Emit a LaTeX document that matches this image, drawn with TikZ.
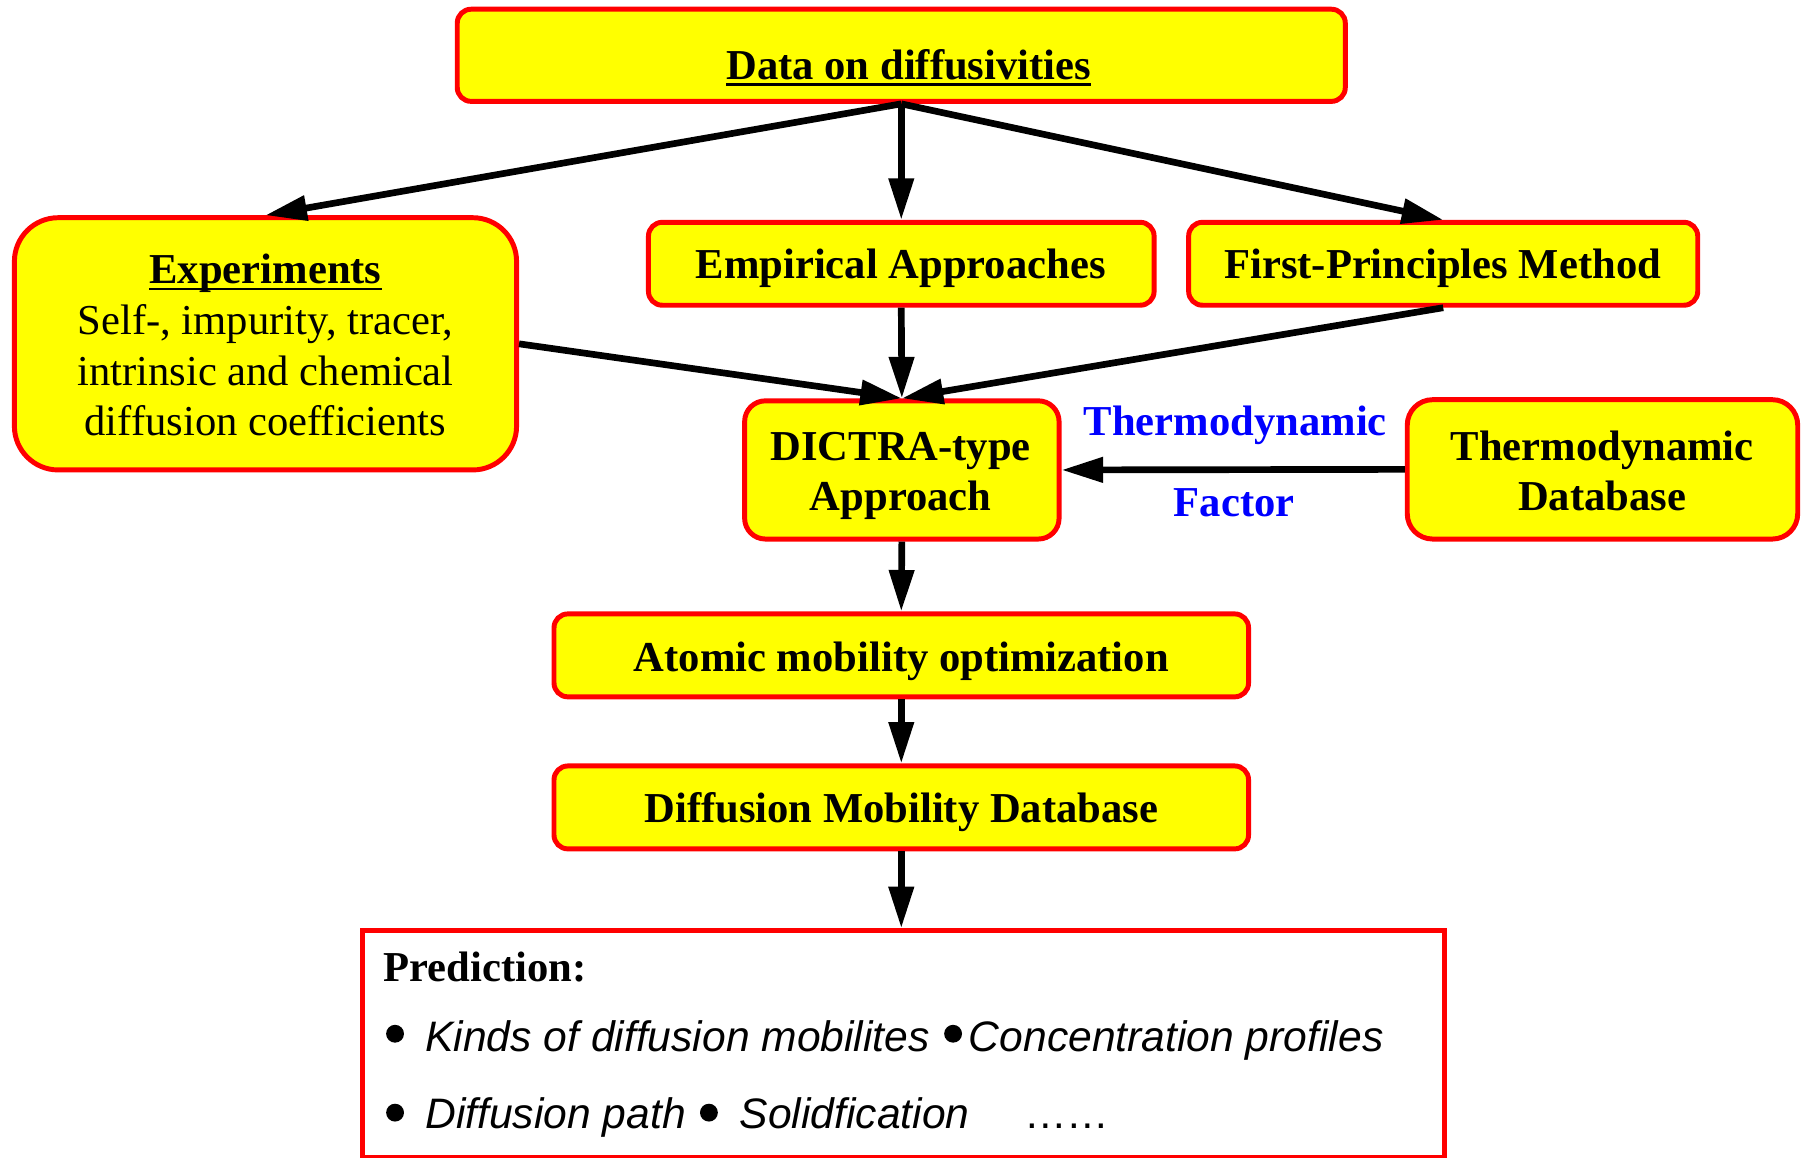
\documentclass[tikz,border=0pt]{standalone}
\usepackage{fontspec}
\setmainfont{Liberation Serif}
\newfontfamily\helv{Liberation Sans}
\usetikzlibrary{arrows.meta}
\definecolor{boxyellow}{RGB}{255,255,0}
\definecolor{boxred}{RGB}{255,0,0}
\definecolor{labblue}{RGB}{0,0,255}
\begin{document}
\begin{tikzpicture}[x=1pt,y=-1pt,
  box/.style={draw=boxred, fill=boxyellow, line width=4.3pt, rounded corners=12pt, inner sep=0pt},
  arr/.style={line width=5.8pt, -{Triangle[length=36pt,width=21pt]}},
  uline/.style={line width=2.4pt},
  txt/.style={inner sep=0pt, anchor=base, font=\fontsize{37}{44}\selectfont\bfseries},
  rtxt/.style={inner sep=0pt, anchor=base, font=\fontsize{37}{44}\selectfont},
  bluelab/.style={txt, text=labblue},
  predtxt/.style={inner sep=0pt, anchor=base west, font=\fontsize{37}{44}\selectfont\helv\itshape},
  bul/.style={circle, fill=black, inner sep=0pt, minimum size=15.5pt}]
\useasboundingbox (0,0) rectangle (1568,1005);

% boxes
\node[box, minimum width=771pt, minimum height=80pt] (data) at (782.5,48) {};
\node[box, minimum width=436pt, minimum height=219pt, rounded corners=38pt] (exp) at (230.5,298.5) {};
\node[box, minimum width=439pt, minimum height=72pt] (emp) at (782.5,229) {};
\node[box, minimum width=442pt, minimum height=72pt] (fp) at (1253,229) {};
\node[box, minimum width=273pt, minimum height=120pt, rounded corners=18pt] (dictra) at (783,408) {};
\node[box, minimum width=339pt, minimum height=121pt, rounded corners=22pt] (tdb) at (1391.3,407.5) {};
\node[box, minimum width=603pt, minimum height=72pt] (atom) at (782.5,569) {};
\node[box, minimum width=603pt, minimum height=72pt] (dmd) at (782.5,701) {};
\node[draw=boxred, line width=4.3pt, inner sep=0pt, minimum width=939pt, minimum height=197pt] (pred) at (784.5,906.5) {};

% box texts
\node[txt] (datat) at (789,69) {Data on diffusivities};
\draw[uline] ([yshift=-4.4pt]datat.base west) -- ([yshift=-4.4pt]datat.base east);
\node[txt] (expt1) at (230.5,246) {Experiments};
\draw[uline] ([yshift=-5pt]expt1.base west) -- ([yshift=-5pt]expt1.base east);
\node[rtxt] (expt2) at (230.5,290.5) {Self-, impurity, tracer,};
\node[rtxt] (expt3) at (230.5,334.5) {intrinsic and chemical};
\node[rtxt] (expt4) at (230.5,378.5) {diffusion coefficients};
\node[txt] (empt) at (782,242) {Empirical Approaches};
\node[txt] (fpt) at (1252.5,242) {First-Principles Method};
\node[txt] (dictrat1) at (782,399.5) {DICTRA-type};
\node[txt] (dictrat2) at (782,443) {Approach};
\node[txt] (tdbt1) at (1391,399.5) {Thermodynamic};
\node[txt] (tdbt2) at (1391,443) {Database};
\node[txt] (atomt) at (782.5,583) {Atomic mobility optimization};
\node[txt] (dmdt) at (782.5,714.5) {Diffusion Mobility Database};

\node[bluelab] (lab1) at (1072.5,378) {Thermodynamic};
\node[bluelab] (lab2) at (1071.5,448.5) {Factor};

% prediction content
\node[inner sep=0pt, anchor=base west, font=\fontsize{37}{44}\selectfont\bfseries] (ptitle) at (333,852) {Prediction:};
\node[bul] (b1) at (343,897.5) {};
\node[predtxt] (t1) at (369,913) {Kinds of diffusion mobilites};
\node[bul] (b2) at (827.5,897.5) {};
\node[predtxt] (t2) at (841,913) {Concentration profiles};
\node[bul] (b3) at (343,966) {};
\node[predtxt] (t3) at (369,980) {Diffusion path};
\node[bul] (b4) at (615.5,966) {};
\node[predtxt] (t4) at (642,980) {Solidfication};
\node[inner sep=0pt, anchor=base west, font=\fontsize{37}{44}\selectfont\helv] (t5) at (889,980) {……};

% connectors
\draw[arr] (data.south) -- (exp.north);
\draw[arr] (data.south) -- (emp.north);
\draw[arr] (data.south) -- (fp.north);
\draw[arr] (exp.east) -- (dictra.north);
\draw[arr] (emp.south) -- (dictra.north);
\draw[arr] (fp.south) -- (dictra.north);
\draw[arr] (tdb.west) -- (dictra.east);
\draw[arr] (dictra.south) -- (atom.north);
\draw[arr] (atom.south) -- (dmd.north);
\draw[arr] (dmd.south) -- (dmd.south |- pred.north);
\end{tikzpicture}
\end{document}
